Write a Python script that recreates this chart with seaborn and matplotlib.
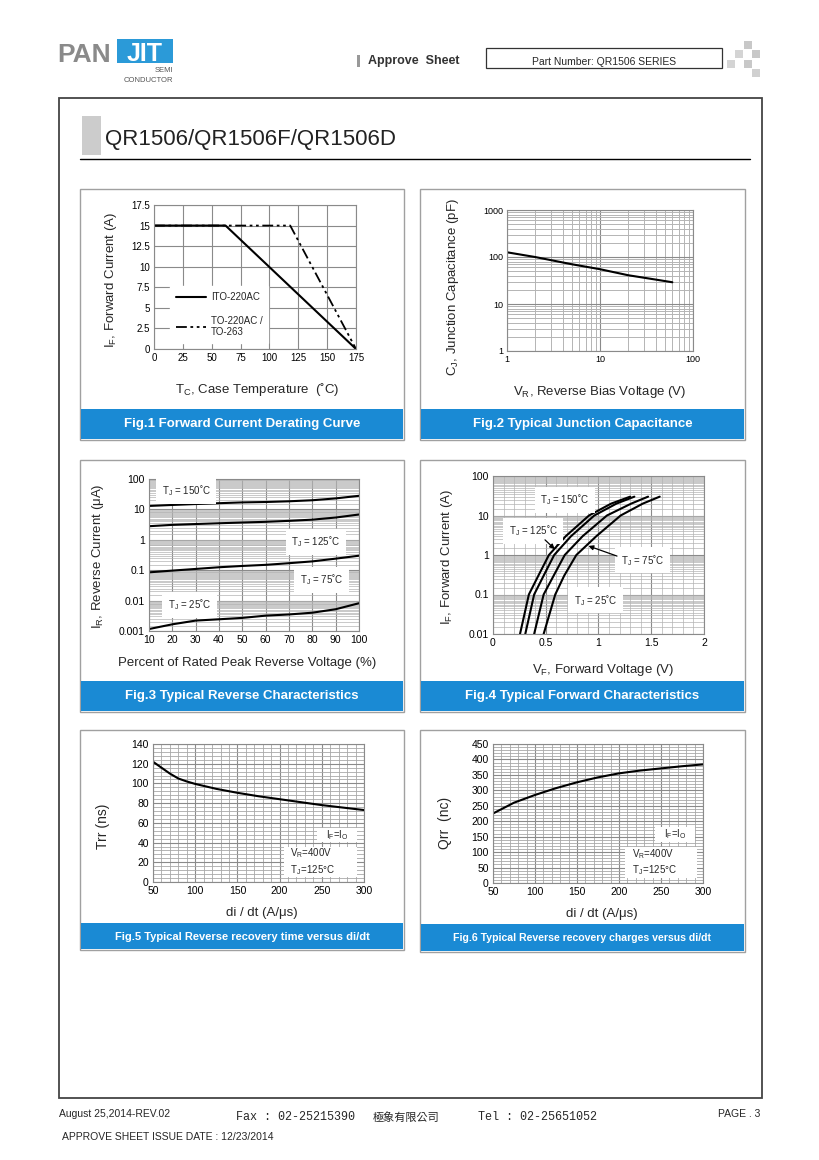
import matplotlib
matplotlib.use("Agg")
import matplotlib.pyplot as plt
from matplotlib.patches import Rectangle
from matplotlib.ticker import LogLocator, MultipleLocator, NullFormatter
import numpy as np
import pandas as pd
import seaborn as sns

# ---- data ----
# Fig.1 forward current derating
derate_temp_ito = [0, 62, 175]
derate_curr_ito = [15, 15, 0]
derate_temp_to = [0, 118, 175]
derate_curr_to = [15, 15, 0]

# Fig.2 junction capacitance
cj_volt = [1, 2, 5, 10, 20, 40, 60]
cj_cap = [126, 100, 70, 55, 41, 33, 29]

# Fig.3 reverse characteristics
ir_pct = [10, 20, 30, 40, 50, 60, 70, 80, 90, 100]
ir_150 = [13, 14, 15, 16, 17, 17.5, 18.5, 20, 23, 28]
ir_125 = [2.8, 3.1, 3.3, 3.5, 3.7, 3.9, 4.2, 4.6, 5.4, 6.8]
ir_75 = [0.085, 0.097, 0.11, 0.125, 0.138, 0.15, 0.17, 0.195, 0.24, 0.3]
ir_25 = [0.00116, 0.00166, 0.0022, 0.00243, 0.0027, 0.0032, 0.0035, 0.004, 0.0052, 0.0082]

# Fig.4 forward characteristics
if_amp = [0.01, 0.1, 0.3, 1, 3, 10, 20, 30]
vf_150 = [0.256, 0.34, 0.43, 0.53, 0.69, 0.91, 1.12, 1.30]
vf_125 = [0.306, 0.39, 0.48, 0.58, 0.74, 0.96, 1.17, 1.34]
vf_75 = [0.39, 0.48, 0.575, 0.68, 0.85, 1.08, 1.31, 1.47]
vf_25 = [0.48, 0.59, 0.675, 0.79, 0.98, 1.21, 1.42, 1.58]

# Fig.5 / Fig.6 reverse recovery
didt = [50, 60, 70, 80, 90, 100, 125, 150, 175, 200, 225, 250, 275, 300]
trr = [122, 116, 110, 105, 102, 99.5, 94.5, 90.5, 87, 84, 81, 78, 75.5, 73]
didt_q = [50, 75, 100, 125, 150, 175, 200, 225, 250, 275, 300]
qrr = [225, 260, 285, 307, 326, 342, 355, 364, 371, 378, 384]

captions = [
    "Fig.1 Forward Current Derating Curve",
    "Fig.2 Typical Junction Capacitance",
    "Fig.3 Typical Reverse Characteristics",
    "Fig.4 Typical Forward Characteristics",
    "Fig.5 Typical Reverse recovery time versus di/dt",
    "Fig.6 Typical Reverse recovery charges versus di/dt",
]

sns.set_theme(style="white")
plt.rcParams["font.family"] = ["Liberation Sans", "DejaVu Sans", "Noto Sans CJK TC"]
plt.rcParams["mathtext.fontset"] = "custom"
plt.rcParams["mathtext.rm"] = "Liberation Sans"
plt.rcParams["mathtext.it"] = "Liberation Sans:italic"

W, H = 820, 1160
BLUE = "#1a8ad4"
GRID = "#8a8a8a"
MINOR = "#b4b4b4"
DASHDOT = [6, 2, 1.5, 2, 1.5, 2]

fig = plt.figure(figsize=(8.2, 11.6), dpi=100)


def fr(x0, y0, x1, y1):
    return [x0 / W, 1 - y1 / H, (x1 - x0) / W, (y1 - y0) / H]


def frect(x0, y0, x1, y1, **kw):
    kw.setdefault("zorder", -5)
    fig.add_artist(Rectangle((x0 / W, 1 - y1 / H), (x1 - x0) / W, (y1 - y0) / H,
                             transform=fig.transFigure, **kw))


def ftext(x, y, s, **kw):
    fig.text(x / W, 1 - y / H, s, **kw)


def style(ax, size=7.5):
    for s in ax.spines.values():
        s.set_color(GRID)
        s.set_linewidth(0.8)
    ax.tick_params(which="both", length=0, labelsize=size, pad=3, colors="black",
                   bottom=False, left=False)
    ax.grid(True, which="minor", color=MINOR, lw=0.5)
    ax.grid(True, which="major", color=GRID, lw=0.8)
    ax.set_axisbelow(True)
    ax.set_xlabel("")
    ax.set_ylabel("")


def labels(ax, xl, xpos, yl, ypos, xs=9.5, ys=9.5):
    ax.text(xpos[0], xpos[1], xl, transform=ax.transAxes, ha="center", va="center", fontsize=xs)
    ax.text(ypos[0], ypos[1], yl, transform=ax.transAxes, ha="center", va="center",
            fontsize=ys, rotation=90)


# ---- page furniture ----
ftext(57, 62, "PAN", fontsize=19, fontweight="bold", color="#8a8a8a", va="baseline")
frect(117, 39, 173, 63, facecolor="#2b9ad8", edgecolor="none")
ftext(145, 61, "JIT", fontsize=18, fontweight="bold", color="white", ha="center", va="baseline")
ftext(173, 71, "SEMI", fontsize=5.5, color="#555555", ha="right", va="center")
ftext(173, 80, "CONDUCTOR", fontsize=5.5, color="#555555", ha="right", va="center")
frect(357, 55, 360, 67, facecolor="#999999", edgecolor="none")
ftext(368, 61, "Approve  Sheet", fontsize=9, fontweight="bold", color="#333333", va="center")
frect(486, 48, 722, 68, facecolor="white", edgecolor="#333333", lw=0.9)
ftext(604, 62, "Part Number: QR1506 SERIES", fontsize=7.5, ha="center", va="center")
for (sx, sy, c) in [(744, 41, "#c8c8c8"), (735, 50, "#d4d4d4"), (752, 50, "#c8c8c8"),
                    (727, 60, "#d4d4d4"), (744, 60, "#c8c8c8"), (752, 69, "#d0d0d0")]:
    frect(sx, sy, sx + 8, sy + 8, facecolor=c, edgecolor="none")

frect(59, 98, 762, 1098, facecolor="none", edgecolor="#444444", lw=1.3)
frect(82, 116, 101, 155, facecolor="#cccccc", edgecolor="none")
ftext(105, 145, "QR1506/QR1506F/QR1506D", fontsize=16, va="baseline", color="#222222")
fig.add_artist(plt.Line2D([80 / W, 750 / W], [1 - 159 / H, 1 - 159 / H],
                          transform=fig.transFigure, color="black", lw=1))

ftext(59, 1114, "August 25,2014-REV.02", fontsize=7.5, va="center")
ftext(236, 1117, "Fax : 02-25215390", fontsize=8.5, va="center", family=["Liberation Mono"])
ftext(373, 1117, "極象有限公司", fontsize=8, va="center", family=["Noto Sans CJK TC"])
ftext(478, 1117, "Tel : 02-25651052", fontsize=8.5, va="center", family=["Liberation Mono"])
ftext(760, 1114, "PAGE . 3", fontsize=7.5, va="center", ha="right")
ftext(62, 1137, "APPROVE SHEET ISSUE DATE : 12/23/2014", fontsize=7.5, va="center")

# panels and caption bands
panels = [(80, 189, 404, 440, 409, 9.5), (420, 189, 745, 440, 409, 9.5),
          (80, 460, 404, 712, 681, 9.5), (420, 460, 745, 712, 681, 9.5),
          (80, 730, 404, 950, 923, 8), (420, 730, 745, 952, 924, 7.6)]
for (x0, y0, x1, y1, yb, fs), cap in zip(panels, captions):
    frect(x0, y0, x1, y1, facecolor="white", edgecolor="#a0a0a0", lw=1)
    frect(x0 + 1, yb, x1 - 1, y1 - 1, facecolor=BLUE, edgecolor="none")
    ftext((x0 + x1) / 2, (yb + y1) / 2, cap, fontsize=fs, fontweight="bold",
          color="white", ha="center", va="center")

# ---- Fig.1 ----
ax1 = fig.add_axes(fr(154, 205, 356, 349))
sns.lineplot(x=derate_temp_ito, y=derate_curr_ito, ax=ax1, color="black", lw=1.5, label="ITO-220AC")
sns.lineplot(x=derate_temp_to, y=derate_curr_to, ax=ax1, color="black", lw=1.3,
             label="TO-220AC /\nTO-263")
ax1.lines[1].set_dashes(DASHDOT)
ax1.set_xlim(0, 175)
ax1.set_ylim(0, 17.5)
ax1.set_xticks(np.arange(0, 176, 25))
ax1.set_yticks(np.arange(0, 17.6, 2.5))
ax1.set_yticklabels(["0", "2.5", "5", "7.5", "10", "12.5", "15", "17.5"])
style(ax1, 7)
leg = ax1.legend(loc="lower left", bbox_to_anchor=(0.079, 0.04), borderaxespad=0, fontsize=7,
                 frameon=True, facecolor="white", edgecolor="white", framealpha=1,
                 handlelength=3.1, handletextpad=0.5, labelspacing=1.4, borderpad=0.6,
                 fancybox=False)
leg.get_lines()[1].set_dashes(DASHDOT)
labels(ax1, r"T$_{\rm C}$, Case Temperature  (˚C)", (0.51, -0.28),
       r"I$_{\rm F}$, Forward Current (A)", (-0.213, 0.48))

# ---- Fig.2 ----
ax2 = fig.add_axes(fr(507, 210, 693, 351))
sns.lineplot(x=cj_volt, y=cj_cap, ax=ax2, color="black", lw=1.5)
ax2.set_xscale("log")
ax2.set_yscale("log")
ax2.set_xlim(1, 100)
ax2.set_ylim(1, 1000)
ax2.set_xticks([1, 10, 100])
ax2.set_xticklabels(["1", "10", "100"])
ax2.set_yticks([1, 10, 100, 1000])
ax2.set_yticklabels(["1", "10", "100", "1000"])
for axis in (ax2.xaxis, ax2.yaxis):
    axis.set_minor_locator(LogLocator(base=10, subs=np.arange(2, 10), numticks=50))
    axis.set_minor_formatter(NullFormatter())
style(ax2, 6.5)
ax2.grid(True, which="minor", color=MINOR, lw=0.7)
labels(ax2, r"V$_{\rm R}$, Reverse Bias Voltage (V)", (0.5, -0.29),
       r"C$_{\rm J}$, Junction Capacitance (pF)", (-0.29, 0.45))

# ---- Fig.3 ----
ax3 = fig.add_axes(fr(149, 479, 359, 631))
rev = pd.DataFrame({"pct": ir_pct * 4, "ir": ir_150 + ir_125 + ir_75 + ir_25,
                    "tj": ["150"] * 10 + ["125"] * 10 + ["75"] * 10 + ["25"] * 10})
sns.lineplot(data=rev, x="pct", y="ir", units="tj", estimator=None, ax=ax3, color="black", lw=1.5)
ax3.set_yscale("log")
ax3.set_xlim(10, 100)
ax3.set_ylim(0.001, 100)
ax3.set_xticks(np.arange(10, 101, 10))
ax3.set_yticks([0.001, 0.01, 0.1, 1, 10, 100])
ax3.set_yticklabels(["0.001", "0.01", "0.1", "1", "10", "100"])
ax3.yaxis.set_minor_locator(LogLocator(base=10, subs=np.arange(1.5, 10, 0.5), numticks=200))
ax3.yaxis.set_minor_formatter(NullFormatter())
style(ax3)
ax3.grid(False, which="minor", axis="x")
bb = dict(facecolor="white", edgecolor="none", pad=4)
for (tx, ty, s) in [(26, 40, "150"), (81.5, 0.85, "125"), (84, 0.048, "75"), (27.5, 0.0072, "25")]:
    ax3.text(tx, ty, r"T$_{\rm J}$ = " + s + "˚C", fontsize=7, ha="center", va="center", bbox=bb)
labels(ax3, "Percent of Rated Peak Reverse Voltage (%)", (0.467, -0.21),
       r"I$_{\rm R}$, Reverse Current (μA)", (-0.243, 0.49))

# ---- Fig.4 ----
ax4 = fig.add_axes(fr(493, 476, 704, 634))
fwd = pd.DataFrame({"vf": vf_150 + vf_125 + vf_75 + vf_25, "if": if_amp * 4,
                    "tj": ["150"] * 8 + ["125"] * 8 + ["75"] * 8 + ["25"] * 8})
sns.lineplot(data=fwd, x="vf", y="if", units="tj", estimator=None, sort=False, ax=ax4,
             color="black", lw=1.5)
ax4.set_yscale("log")
ax4.set_xlim(0, 2)
ax4.set_ylim(0.01, 100)
ax4.set_xticks([0, 0.5, 1, 1.5, 2])
ax4.set_xticklabels(["0", "0.5", "1", "1.5", "2"])
ax4.set_yticks([0.01, 0.1, 1, 10, 100])
ax4.set_yticklabels(["0.01", "0.1", "1", "10", "100"])
ax4.xaxis.set_minor_locator(MultipleLocator(0.1))
ax4.yaxis.set_minor_locator(LogLocator(base=10, subs=np.arange(1.5, 10, 0.5), numticks=200))
ax4.yaxis.set_minor_formatter(NullFormatter())
style(ax4)
for (tx, ty, s) in [(0.68, 24.6, "150"), (0.38, 4.1, "125"), (1.42, 0.74, "75"), (0.97, 0.072, "25")]:
    ax4.text(tx, ty, r"T$_{\rm J}$ = " + s + "˚C", fontsize=7, ha="center", va="center", bbox=bb)
arrow = dict(arrowstyle="-|>", color="black", lw=0.9, mutation_scale=7)
ax4.annotate("", xy=(0.604, 1.26), xytext=(0.474, 2.7), arrowprops=arrow)
ax4.annotate("", xy=(0.88, 1.79), xytext=(1.2, 0.89), arrowprops=arrow)
labels(ax4, r"V$_{\rm F}$, Forward Voltage (V)", (0.52, -0.23),
       r"I$_{\rm F}$, Forward Current (A)", (-0.218, 0.49))


# ---- Fig.5 / Fig.6 ----
def recovery(ax, x, y, ymax, ystep, yminor, ylab, ylpos, boxes):
    sns.lineplot(x=x, y=y, ax=ax, color="black", lw=1.5)
    ax.set_xlim(50, 300)
    ax.set_ylim(0, ymax)
    ax.set_xticks(np.arange(50, 301, 50))
    ax.set_yticks(np.arange(0, ymax + 1, ystep))
    ax.xaxis.set_minor_locator(MultipleLocator(10))
    ax.yaxis.set_minor_locator(MultipleLocator(yminor))
    style(ax)
    ax.grid(True, which="minor", color="#a8a8a8", lw=0.6)
    (b1, b2, t1, t2) = boxes
    for (bx0, by0, bx1, by1) in (b1, b2):
        ax.add_patch(Rectangle((bx0, by0), bx1 - bx0, by1 - by0, transform=ax.transAxes,
                               facecolor="white", edgecolor="none", zorder=1.5))
    ax.text(t1[0], t1[1], r"I$_{\rm F}$=I$_{\rm O}$", transform=ax.transAxes, fontsize=7,
            ha="center", va="center", zorder=3)
    ax.text(t2[0], t2[1], "V$_{\\rm R}$=400V\n T$_{\\rm J}$=125°C", transform=ax.transAxes,
            fontsize=7, ha="center", va="center", linespacing=1.3, zorder=3)
    labels(ax, "di / dt (A/μs)", (0.517, -0.225), ylab, ylpos, xs=9.5, ys=10)


ax5 = fig.add_axes(fr(153, 744, 364, 882))
recovery(ax5, didt, trr, 140, 20, 4, "Trr (ns)", (-0.237, 0.40),
         ((0.777, 0.29, 0.967, 0.39), (0.621, 0.036, 0.967, 0.254), (0.872, 0.34), (0.75, 0.15)))

ax6 = fig.add_axes(fr(493, 744, 703, 883))
recovery(ax6, didt_q, qrr, 450, 50, 10, "Qrr  (nc)", (-0.229, 0.43),
         ((0.771, 0.295, 0.962, 0.403), (0.629, 0.036, 0.971, 0.259), (0.867, 0.353), (0.762, 0.151)))

fig.savefig("out.png", dpi=100)
